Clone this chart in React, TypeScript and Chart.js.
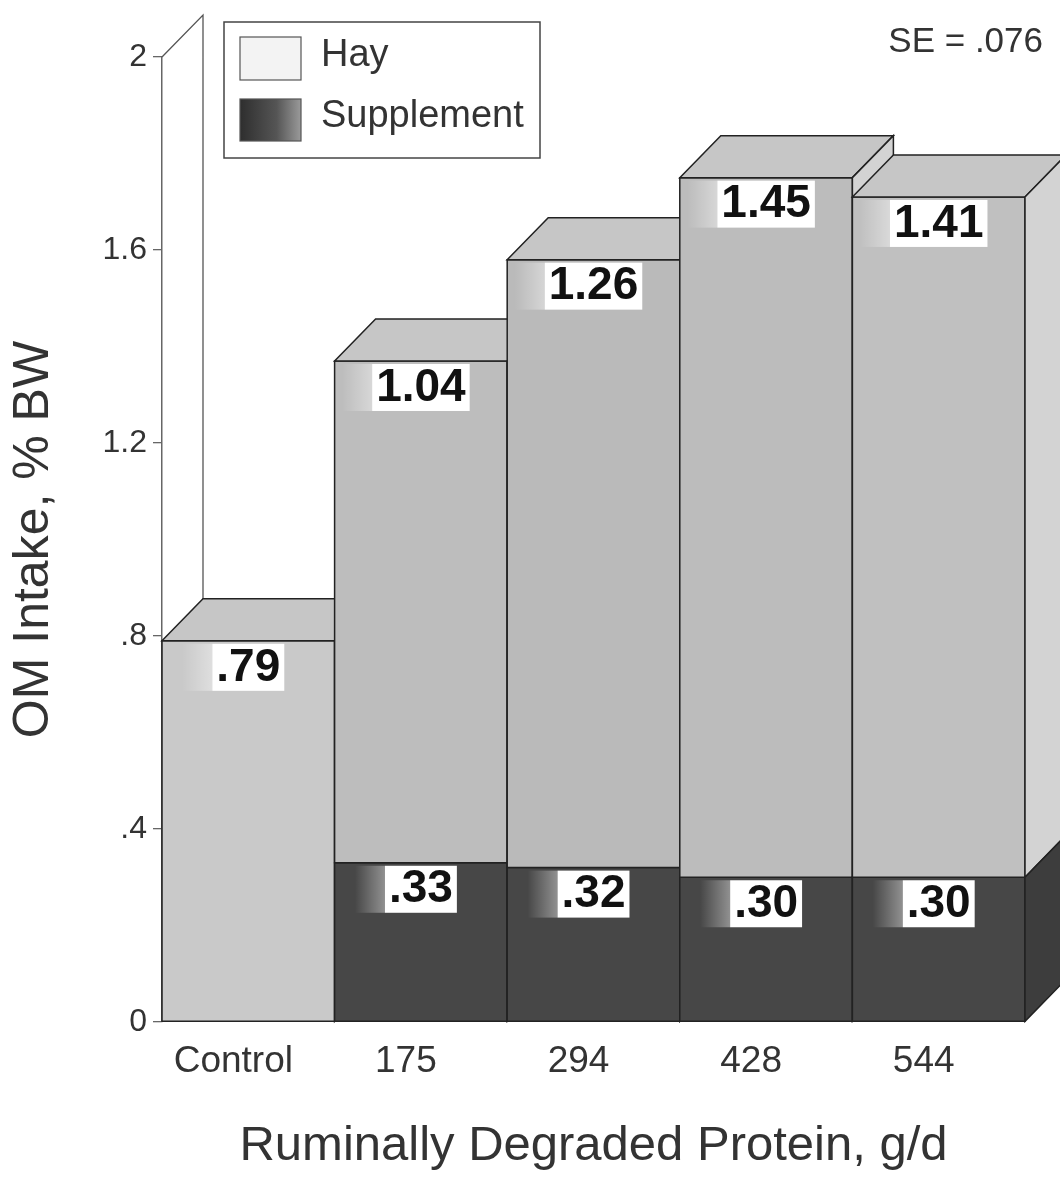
import React, { useEffect, useRef } from 'react';
import { Chart, registerables } from 'chart.js';

Chart.register(...registerables);

const categories = ['Control', '175', '294', '428', '544'];
const hayValues = [0.79, 1.04, 1.26, 1.45, 1.41];
const supplementValues = [0, 0.33, 0.32, 0.3, 0.3];
const yMin = 0;
const yMax = 2;
const yStep = 0.4;
const seText = 'SE = .076';
const xTitle = 'Ruminally Degraded Protein, g/d';
const yTitle = 'OM Intake, % BW';
const seriesNames = ['Supplement', 'Hay'];

const FONT = '"Liberation Sans", Arial, Helvetica, sans-serif';
const DX = 41;
const DY = -42;
const EDGE = '#222';
const HAY_FRONT = ['#c9c9c9', '#bdbdbd', '#bababa', '#bcbcbc', '#c0c0c0'];
const HAY_TOP = '#c6c6c6';
const HAY_SIDE = '#d3d3d3';
const SUPP_FRONT = '#474747';
const SUPP_SIDE = '#3d3d3d';

const fmtVal = (v: number) => (v < 1 ? v.toFixed(2).replace(/^0/, '') : v.toFixed(2));
const fmtTick = (v: number) => {
  const r = Math.round(v * 10) / 10;
  if (r === 0) return '0';
  return String(r).replace(/^0\./, '.');
};

function poly(ctx: CanvasRenderingContext2D, pts: number[][], fill: string) {
  ctx.beginPath();
  ctx.moveTo(pts[0][0], pts[0][1]);
  for (let i = 1; i < pts.length; i++) ctx.lineTo(pts[i][0], pts[i][1]);
  ctx.closePath();
  ctx.fillStyle = fill;
  ctx.fill();
  ctx.stroke();
}

const threeD = {
  id: 'threeD',
  beforeDatasetsDraw(chart: any) {
    const { ctx, chartArea: a } = chart;
    ctx.save();
    ctx.strokeStyle = '#555';
    ctx.lineWidth = 1.3;
    ctx.beginPath();
    ctx.moveTo(a.left, a.top);
    ctx.lineTo(a.left + DX, a.top + DY);
    ctx.lineTo(a.left + DX, a.bottom + DY);
    ctx.stroke();
    ctx.restore();
  },
  afterDatasetsDraw(chart: any) {
    const ctx: CanvasRenderingContext2D = chart.ctx;
    const suppEls = chart.getDatasetMeta(0).data;
    const hayEls = chart.getDatasetMeta(1).data;
    ctx.save();
    ctx.strokeStyle = EDGE;
    ctx.lineWidth = 1.5;
    ctx.lineJoin = 'miter';
    const labels: any[] = [];
    for (let i = 0; i < categories.length; i++) {
      const s = suppEls[i].getProps(['x', 'y', 'base', 'width'], true);
      const h = hayEls[i].getProps(['x', 'y', 'base', 'width'], true);
      const l = h.x - h.width / 2;
      const r = h.x + h.width / 2;
      const sTop = Math.min(s.y, s.base);
      const sBot = Math.max(s.y, s.base);
      const hTop = Math.min(h.y, h.base);
      const hBot = Math.max(h.y, h.base);
      const hasSupp = sBot - sTop > 0.5;
      if (hasSupp) {
        poly(ctx, [[l, sTop], [r, sTop], [r, sBot], [l, sBot]], SUPP_FRONT);
      }
      poly(ctx, [[l, hTop], [r, hTop], [r, hBot], [l, hBot]], HAY_FRONT[i]);
      poly(ctx, [[l, hTop], [r, hTop], [r + DX, hTop + DY], [l + DX, hTop + DY]], HAY_TOP);
      poly(ctx, [[r, hTop], [r + DX, hTop + DY], [r + DX, hBot + DY], [r, hBot]], HAY_SIDE);
      if (hasSupp) {
        poly(ctx, [[r, sTop], [r + DX, sTop + DY], [r + DX, sBot + DY], [r, sBot]], SUPP_SIDE);
      }
      labels.push({ x: h.x, top: hTop, v: hayValues[i] });
      if (hasSupp) labels.push({ x: s.x, top: sTop, v: supplementValues[i] });
    }
    ctx.font = `bold 46px ${FONT}`;
    ctx.textAlign = 'center';
    ctx.textBaseline = 'middle';
    for (const lb of labels) {
      const t = fmtVal(lb.v);
      const w = ctx.measureText(t).width + 8;
      const bx = lb.x - w / 2;
      const by = lb.top + 3;
      const bh = 47;
      const g = ctx.createLinearGradient(bx - 30, 0, bx, 0);
      g.addColorStop(0, 'rgba(255,255,255,0)');
      g.addColorStop(1, 'rgba(255,255,255,0.4)');
      ctx.fillStyle = g;
      ctx.fillRect(bx - 30, by, 30, bh);
      ctx.fillStyle = '#ffffff';
      ctx.fillRect(bx, by, w, bh);
      ctx.fillStyle = '#111';
      ctx.fillText(t, lb.x, lb.top + 27);
    }
    ctx.restore();
  },
  afterDraw(chart: any) {
    const ctx: CanvasRenderingContext2D = chart.ctx;
    ctx.save();
    // legend
    ctx.strokeStyle = '#444';
    ctx.lineWidth = 1.5;
    ctx.strokeRect(224, 22, 316, 136);
    ctx.fillStyle = '#f3f3f3';
    ctx.fillRect(240, 37, 61, 43);
    ctx.strokeStyle = '#555';
    ctx.lineWidth = 1.2;
    ctx.strokeRect(240, 37, 61, 43);
    const g = ctx.createLinearGradient(240, 0, 301, 0);
    g.addColorStop(0, '#2e2e2e');
    g.addColorStop(0.6, '#555');
    g.addColorStop(1, '#9a9a9a');
    ctx.fillStyle = g;
    ctx.fillRect(240, 99, 61, 42);
    ctx.strokeRect(240, 99, 61, 42);
    ctx.fillStyle = '#333';
    ctx.font = `38px ${FONT}`;
    ctx.textAlign = 'left';
    ctx.textBaseline = 'middle';
    ctx.fillText(chart.data.datasets[1].label, 321, 56);
    ctx.fillText(chart.data.datasets[0].label, 321, 117);
    // SE
    ctx.font = `35px ${FONT}`;
    ctx.textAlign = 'right';
    ctx.fillText(seText, 1043, 42);
    ctx.restore();
  },
};

export default function App() {
  const ref = useRef<HTMLCanvasElement | null>(null);
  useEffect(() => {
    document.body.style.margin = '0';
    if (!ref.current) return;
    Chart.defaults.font.family = FONT;
    const chart = new Chart(ref.current, {
      type: 'bar',
      data: {
        labels: categories,
        datasets: [
          {
            label: seriesNames[0],
            data: supplementValues,
            backgroundColor: SUPP_FRONT,
            borderColor: EDGE,
            borderWidth: 0,
            categoryPercentage: 1,
            barPercentage: 1,
          },
          {
            label: seriesNames[1],
            data: hayValues,
            backgroundColor: HAY_FRONT,
            borderColor: EDGE,
            borderWidth: 0,
            categoryPercentage: 1,
            barPercentage: 1,
          },
        ],
      },
      options: {
        animation: false,
        responsive: true,
        maintainAspectRatio: false,
        layout: { padding: { top: 57, right: 35, left: 0, bottom: 0 } },
        plugins: {
          legend: { display: false },
          tooltip: { enabled: false },
        },
        scales: {
          x: {
            stacked: true,
            grid: { display: false, drawTicks: false },
            border: { display: false },
            ticks: {
              color: '#333',
              font: { size: 37, family: FONT },
              padding: 18,
              labelOffset: -15,
            },
            title: {
              display: true,
              text: xTitle,
              color: '#333',
              font: { size: 49, family: FONT },
              padding: { top: 0, bottom: 4 },
            },
            afterFit(scale: any) {
              scale.height = 158;
            },
          },
          y: {
            stacked: true,
            min: yMin,
            max: yMax,
            grid: {
              display: true,
              drawOnChartArea: false,
              drawTicks: true,
              tickLength: 9,
              color: '#666',
              lineWidth: 1.3,
            },
            border: { display: true, color: '#666', width: 1.5 },
            ticks: {
              stepSize: yStep,
              color: '#333',
              font: { size: 32, family: FONT },
              padding: 6,
              callback: (v: any) => fmtTick(Number(v)),
            },
            title: {
              display: true,
              text: yTitle,
              color: '#333',
              font: { size: 50, family: FONT },
              padding: { top: 4, bottom: 0 },
            },
            afterFit(scale: any) {
              scale.width = 162;
            },
          },
        },
      },
      plugins: [threeD],
    });
    return () => chart.destroy();
  }, []);
  return (
    <div style={{ position: 'relative', width: 1060, height: 1180 }}>
      <canvas ref={ref} />
    </div>
  );
}
